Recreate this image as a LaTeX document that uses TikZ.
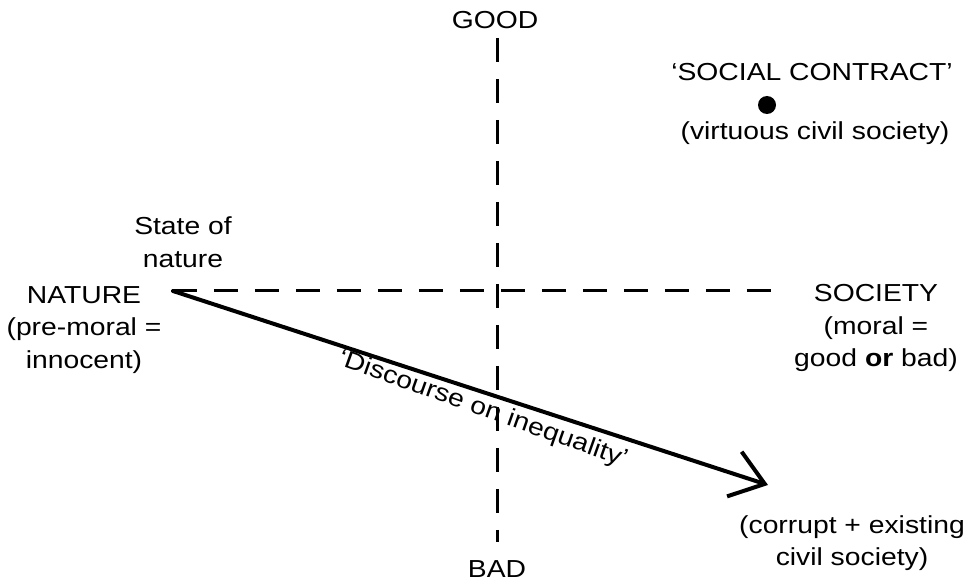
\documentclass[tikz,border=0pt]{standalone}
\usepackage{fontspec}
\setmainfont{Liberation Sans}[FakeStretch=1.15]
\usetikzlibrary{arrows.meta, positioning}

\begin{document}
\begin{tikzpicture}[x=0.02cm, y=-0.02cm,
    txt/.style={font=\fontsize{14}{18.5}\selectfont, align=center, inner sep=0pt},
    axisline/.style={line width=0.06cm, dash pattern=on 0.48cm off 0.34cm},
    flow/.style={line width=0.08cm, line cap=round, -{Straight Barb[length=0.64cm, width=0.94cm]}}]
    \useasboundingbox (0,0) rectangle (971,584);

    % Đầu mút các trục
    \coordinate (top) at (497,38);
    \coordinate (bottom) at (497,542);
    \coordinate (nat) at (173,291);
    \coordinate (soc) at (783,291);
    \coordinate (tip) at (768,485);

    % Hai trục nét đứt
    \draw[axisline] (top) -- (bottom);
    \draw[axisline] (nat) -- (soc);

    % Nhãn các trục
    \node[txt] (good) at (495,20) {GOOD};
    \node[txt] (bad) at (497,569) {BAD};
    \node[txt] (state) at (183,242) {State of\\nature};
    \node[txt] (nature) at (84,330) {NATURE\\(pre-moral =\\innocent)};
    \node[txt] (society) at (876,328) {SOCIETY\\(moral =\\good \textbf{or} bad)};

    % Điểm khế ước xã hội
    \node[txt] (contract) at (812,72) {‘SOCIAL CONTRACT’};
    \node[circle, fill, inner sep=0pt, minimum size=0.36cm] (dot) at (767,105) {};
    \node[txt] (virtuous) at (815,133) {(virtuous civil society)};
    \node[txt] (corrupt) at (852,543) {(corrupt + existing\\civil society)};

    % Mũi tên diễn ngôn
    \draw[flow] (nat) -- node[txt, pos=0.53, sloped, below=2pt, rotate=-1.5] {‘Discourse on inequality’} (tip);
\end{tikzpicture}
\end{document}
